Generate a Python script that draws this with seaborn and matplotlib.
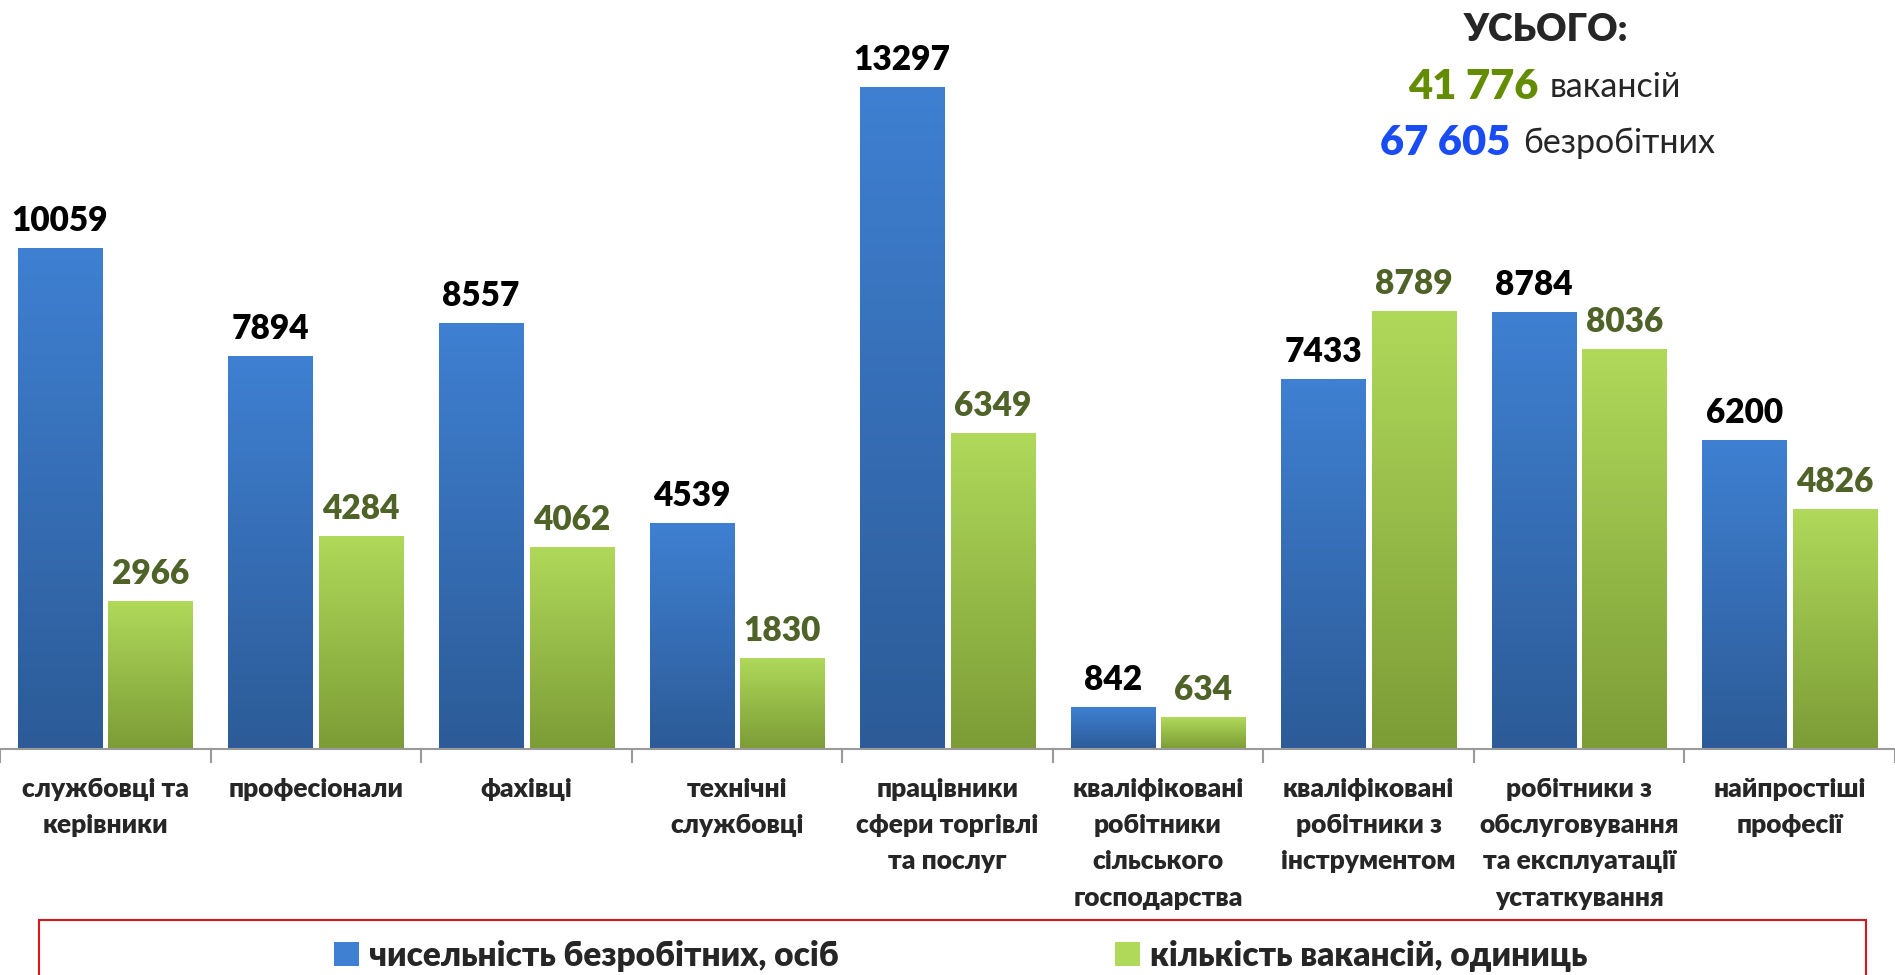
import matplotlib
import numpy as np
import pandas as pd
import seaborn as sns
from matplotlib import pyplot as plt
from matplotlib.colors import LinearSegmentedColormap
from matplotlib.patches import Patch, Rectangle

matplotlib.use("Agg")

categories = [
    "службовці та\nкерівники",
    "професіонали",
    "фахівці",
    "технічні\nслужбовці",
    "працівники\nсфери торгівлі\nта послуг",
    "кваліфіковані\nробітники\nсільського\nгосподарства",
    "кваліфіковані\nробітники з\nінструментом",
    "робітники з\nобслуговування\nта експлуатації\nустаткування",
    "найпростіші\nпрофесії",
]
unemployed = [10059, 7894, 8557, 4539, 13297, 842, 7433, 8784, 6200]
vacancies = [2966, 4284, 4062, 1830, 6349, 634, 8789, 8036, 4826]
series_names = ["чисельність безробітних, осіб", "кількість вакансій, одиниць"]

BLUE_TOP, BLUE_BOTTOM = "#3f80d2", "#2c5b97"
GREEN_TOP, GREEN_BOTTOM = "#b0d95a", "#7c9c36"
GREEN_TEXT = "#4f6228"
FONT = ["Lato", "DejaVu Sans"]
HEAVY = "heavy"


def build_frame():
    df = pd.DataFrame({"category": categories * 2,
                       "value": unemployed + vacancies,
                       "series": [series_names[0]] * len(categories) + [series_names[1]] * len(categories)})
    return df


def paint_gradients(ax, container, top, bottom):
    cmap = LinearSegmentedColormap.from_list("g", [bottom, top])
    grad = np.linspace(0, 1, 256).reshape(-1, 1)
    for bar in container:
        x, y = bar.get_x(), bar.get_y()
        w, h = bar.get_width(), bar.get_height()
        bar.set_facecolor(bottom)
        bar.set_edgecolor("none")
        im = ax.imshow(grad, cmap=cmap, origin="lower", aspect="auto",
                       extent=[x, x + w, y, y + h], zorder=bar.get_zorder() + 0.1)
        im.set_clip_path(bar)


def main():
    sns.set_theme(style="white")
    plt.rcParams["font.family"] = FONT

    df = build_frame()
    fig = plt.figure(figsize=(18.95, 9.75), dpi=100)
    ax = fig.add_axes([0.0, 0.232, 1.0, 0.74])

    sns.barplot(data=df, x="category", y="value", hue="series",
                palette=[BLUE_BOTTOM, GREEN_BOTTOM], width=0.86, gap=0.07,
                legend=False, ax=ax)

    paint_gradients(ax, ax.containers[0], BLUE_TOP, BLUE_BOTTOM)
    paint_gradients(ax, ax.containers[1], GREEN_TOP, GREEN_BOTTOM)

    ax.bar_label(ax.containers[0], fontsize=24, fontweight=HEAVY, color="black", padding=8)
    ax.bar_label(ax.containers[1], fontsize=24, fontweight=HEAVY, color=GREEN_TEXT, padding=8)

    ax.set_xlim(-0.5, len(categories) - 0.5)
    ax.set_ylim(0, 14500)
    ax.set_xlabel("")
    ax.set_ylabel("")
    ax.set_yticks([])
    for side in ["top", "right", "left"]:
        ax.spines[side].set_visible(False)
    ax.spines["bottom"].set_color("#9a9a9a")
    ax.spines["bottom"].set_linewidth(1.5)

    ax.set_xticks(range(len(categories)))
    ax.set_xticklabels(categories, fontsize=19, fontweight=HEAVY, linespacing=1.62, va="top")
    ax.tick_params(axis="x", which="major", length=0, pad=20)
    ax.set_xticks(np.arange(-0.5, len(categories), 1.0), minor=True)
    ax.tick_params(axis="x", which="minor", bottom=True, length=10, width=1.5, color="#9a9a9a")

    # totals box, top right
    fig.text(0.816, 0.969, "УСЬОГО:", fontsize=27, fontweight=HEAVY, ha="center", va="center")
    fig.text(0.812, 0.911, "41 776", fontsize=30, fontweight=HEAVY, color="#638c00", ha="right", va="center")
    fig.text(0.818, 0.911, "вакансій", fontsize=24.5, ha="left", va="center")
    fig.text(0.797, 0.853, "67 605", fontsize=30, fontweight=HEAVY, color="#1a4cf5", ha="right", va="center")
    fig.text(0.804, 0.853, "безробітних", fontsize=24.5, ha="left", va="center")

    # legend with red frame
    fig.add_artist(Rectangle((0.0205, -0.01), 0.964, 0.066, transform=fig.transFigure,
                             fill=False, edgecolor="#d9161c", linewidth=1.5))
    handles = [Patch(facecolor=BLUE_TOP, edgecolor="none"), Patch(facecolor=GREEN_TOP, edgecolor="none")]
    fig.legend(handles, series_names, loc="center", bbox_to_anchor=(0.507, 0.02), ncol=2,
               frameon=False, prop={"family": FONT, "weight": HEAVY, "size": 24},
               handlelength=0.75, handleheight=0.75, handletextpad=0.3, columnspacing=8.3)

    fig.savefig("out.png", dpi=100)


if __name__ == "__main__":
    main()
